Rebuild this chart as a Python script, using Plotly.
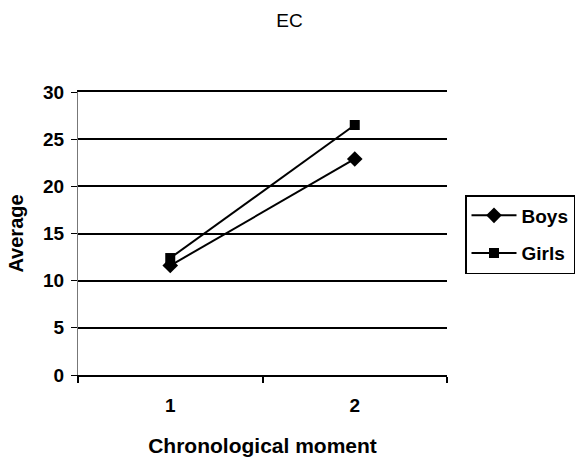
import plotly.graph_objects as go

categories = ["1", "2"]
boys = [11.6, 22.9]
girls = [12.4, 26.5]
y_ticks = [0, 5, 10, 15, 20, 25, 30]

fig = go.Figure()
fig.add_trace(go.Scatter(x=categories, y=boys, name="Boys", mode="lines+markers",
                         legendgroup="b",
                         line=dict(color="black", width=2),
                         marker=dict(symbol="diamond", size=12, color="black")))
fig.add_trace(go.Scatter(x=categories, y=girls, name="Girls", mode="lines+markers",
                         legendgroup="g",
                         line=dict(color="black", width=2),
                         marker=dict(symbol="square", size=10, color="black")))

ff = "Liberation Sans, Arial, sans-serif"
fig.update_layout(
    width=579, height=460,
    margin=dict(l=78, r=132, t=92, b=85),
    paper_bgcolor="white", plot_bgcolor="white",
    title=dict(text="EC", x=0.5, xanchor="center", y=1 - 20 / 460, yanchor="middle",
               font=dict(family=ff, size=19, color="black")),
    showlegend=True,
    legend=dict(xref="container", yref="container", x=465 / 579, y=1 - 195 / 460,
                xanchor="left", yanchor="top",
                bordercolor="black", borderwidth=1.5, bgcolor="white",
                font=dict(family=ff, size=19, color="black", weight="bold"),
                itemwidth=45, tracegroupgap=10),
    font=dict(family=ff, color="black"),
)
fig.update_xaxes(
    type="category", range=[-0.5, 1.5], tickson="boundaries", automargin=False,
    ticks="outside", ticklen=6, tickcolor="black", tickwidth=1.5,
    showline=True, linecolor="black", linewidth=1.5, showgrid=False, mirror=True,
    tickfont=dict(family=ff, size=19, color="black", weight="bold"),
    ticklabelstandoff=12,
    title=dict(text="Chronological moment", standoff=24,
               font=dict(family=ff, size=21, color="black", weight="bold")),
)
fig.update_yaxes(
    range=[0, 30], tickvals=y_ticks, ticks="outside", ticklen=6, tickcolor="black",
    showline=True, linecolor="#777", linewidth=1, showgrid=True, automargin=False,
    gridcolor="black", gridwidth=1.5, zeroline=False,
    tickfont=dict(family=ff, size=19, color="black", weight="bold"),
    ticklabelstandoff=3,
    title=dict(text="Average", standoff=14,
               font=dict(family=ff, size=20, color="black", weight="bold")),
)
fig.write_html("out.html")
